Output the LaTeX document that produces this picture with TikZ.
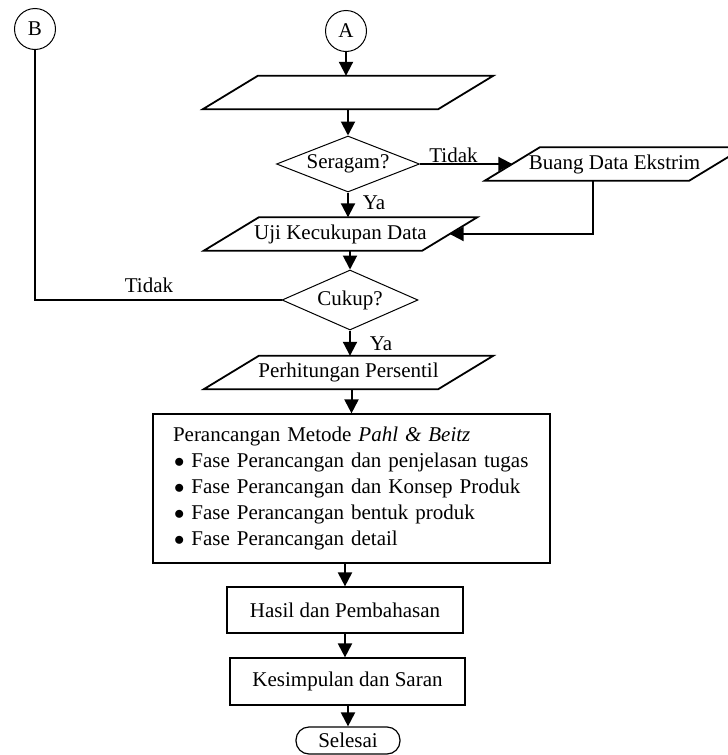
\documentclass[tikz,border=0pt]{standalone}
\usepackage{fontspec}
\setmainfont{Liberation Serif}
\usetikzlibrary{shapes.geometric,arrows.meta}

\tikzset{
	conn/.style={draw=black, line width=2pt, -{Triangle[width=14pt,length=14pt]}},
	link/.style={draw=black, line width=2pt},
	connector/.style={draw=black, circle, line width=1pt, minimum size=41pt, inner sep=0pt},
	io/.style={rectangle, minimum height=33pt, inner sep=1pt,
		append after command={\pgfextra{\draw[draw=black, line width=1.8pt, line join=miter]
			([xshift=27.5pt]\tikzlastnode.north west) -- ([xshift=27.5pt]\tikzlastnode.north east)
			-- ([xshift=-27.5pt]\tikzlastnode.south east) -- ([xshift=-27.5pt]\tikzlastnode.south west) -- cycle;}}},
	decision/.style={draw=black, diamond, line width=1pt, shape aspect=2.5, inner sep=1pt},
	process/.style={draw=black, rectangle, line width=1.2pt},
	terminal/.style={draw=black, rectangle, rounded corners=13pt, line width=1.2pt, minimum height=27pt, minimum width=104pt, inner sep=0pt},
}
\newcommand{\pointitem}{\hspace*{1pt}$\bullet$\hspace{7pt}}

\begin{document}
\begin{tikzpicture}[x=1pt, y=-1pt, font=\fontsize{21}{26}\selectfont]
			\useasboundingbox (0,0) rectangle (728,755);
			\node[connector] (B) at (35,29) {B};
			\node[connector] (A) at (346,31) {A};
			\node[io, minimum width=235pt] (data) at (348,92.5) {};
			\node[decision, minimum width=143pt, minimum height=56pt] (seragam) at (348,164) {Seragam?};
			\node[io, minimum width=204pt] (buang) at (614.5,164) {Buang Data Ekstrim};
			\node[io, minimum width=218pt] (uji) at (340.5,234) {Uji Kecukupan Data};
			\node[decision, minimum width=136pt, minimum height=60pt] (cukup) at (350,300) {Cukup?};
			\node[io, minimum width=234pt] (persentil) at (348.5,372.5) {Perhitungan Persentil};
			\node[process, minimum width=397pt, minimum height=149pt, text width=357pt, inner xsep=20pt, align=left] (pahl) at (351.5,488.5) {Perancangan Metode \textit{Pahl \& Beitz}\\
				\pointitem Fase Perancangan dan penjelasan tugas\\
				\pointitem Fase Perancangan dan Konsep Produk\\
				\pointitem Fase Perancangan bentuk produk\\
				\pointitem Fase Perancangan detail};
			\node[process, minimum width=236pt, minimum height=46pt] (hasil) at (345,610) {Hasil dan Pembahasan};
			\node[process, minimum width=235pt, minimum height=47pt] (simpulan) at (347.5,681.5) {Kesimpulan dan Saran};
			\node[terminal] (selesai) at (348,740.5) {Selesai};
			\node (tidakA) at (453.5,155) {Tidak};
			\node (yaA) at (374,203) {Ya};
			\node (tidakB) at (149,285) {Tidak};
			\node (yaB) at (381,344) {Ya};
			\draw[conn] (A) -- (A |- data.north);
			\draw[conn] (data.south) -- (seragam.north);
			\draw[conn] (seragam.south) -- (seragam.south |- uji.north);
			\draw[conn] (seragam.east) -- (buang.west);
			\draw[conn] ([xshift=-22pt]buang.south) |- (uji.east);
			\draw[conn] (cukup.north |- uji.south) -- (cukup.north);
			\draw[link] (cukup.west) -| (B.south);
			\draw[conn] (cukup.south) -- (cukup.south |- persentil.north);
			\draw[conn] (persentil.south -| pahl.north) -- (pahl.north);
			\draw[conn] (hasil.north |- pahl.south) -- (hasil.north);
			\draw[conn] (hasil.south) -- (hasil.south |- simpulan.north);
			\draw[conn] (simpulan.south -| selesai.north) -- (selesai.north);
		\end{tikzpicture}
\end{document}
